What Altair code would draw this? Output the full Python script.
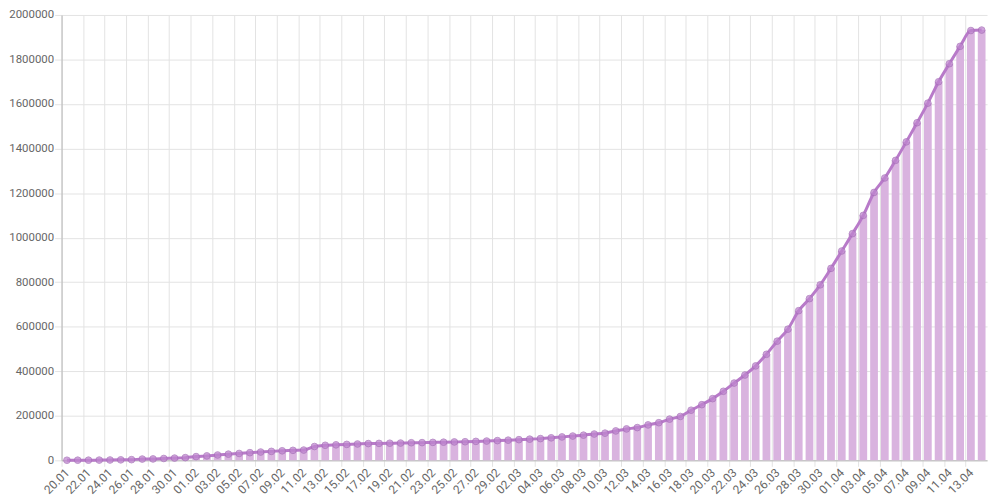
import altair as alt
import pandas as pd

dates = list(pd.date_range("2020-01-20", "2020-04-14", freq="D").strftime("%d.%m"))

cases = [
    400, 550, 650, 950, 1450, 2100, 2950, 5600, 6200, 8250,
    9950, 12050, 16800, 19900, 23900, 27650, 30800, 34400, 37150, 40150,
    42750, 44800, 46000, 62000, 67500, 69500, 71500, 73300, 75200, 76000,
    76800, 77500, 79000, 79500, 80500, 81400, 82500, 83500, 85000, 86500,
    88500, 90500, 92800, 95000, 97500, 101000, 105000, 109000, 113000, 118000,
    122000, 132000, 141000, 147000, 159000, 169000, 185000, 197000, 225000, 250000,
    277000, 310000, 347000, 383000, 424000, 476000, 535000, 589000, 672000, 726000,
    788000, 862000, 940000, 1018000, 1100000, 1203000, 1268000, 1347000, 1430000, 1516000,
    1604000, 1700000, 1781000, 1859000, 1930000, 1932000,
]

label_dates = dates[::2]
y_ticks = list(range(0, 2000001, 200000))

df = pd.DataFrame({"date": dates, "cases": cases})

W = 933
H = 449
step = W / len(dates)

grid_c = "#e3e3e3"
text_c = "#666666"

x = alt.X(
    "date:N",
    sort=dates,
    scale=alt.Scale(paddingInner=0.28, paddingOuter=0.14),
    axis=alt.Axis(
        values=label_dates,
        title=None,
        labelAngle=-45,
        labelAlign="right",
        labelBaseline="middle",
        labelFont="Roboto",
        labelFontSize=12,
        labelColor=text_c,
        labelPadding=4,
        bandPosition=0.5,
        tickOffset=-step / 2,
        labelOffset=step / 2,
        grid=True,
        gridColor=grid_c,
        tickColor=grid_c,
        tickSize=6,
        domainColor="#b5b5b5",
        labelOverlap=False,
    ),
)

y = alt.Y(
    "cases:Q",
    scale=alt.Scale(domain=[0, 2000000], nice=False),
    axis=alt.Axis(
        values=y_ticks,
        format="d",
        title=None,
        labelFont="Roboto",
        labelFontSize=11.5,
        labelColor=text_c,
        labelPadding=1,
        tickSize=7,
        tickColor=grid_c,
        gridColor=grid_c,
        domainColor="#b5b5b5",
    ),
)

base = alt.Chart(df).encode(x=x, y=y)

bars = base.mark_bar(color="#d9b3df")
line = base.mark_line(color="#b87ac9", strokeWidth=3, interpolate="monotone")
pts = base.mark_circle(size=45, color="#bf86cf", opacity=0.75, stroke="#a66fb8", strokeWidth=1)

chart = (
    alt.layer(bars, line, pts)
    .properties(
        width=W,
        height=H,
        autosize=alt.AutoSizeParams(type="none"),
        padding={"left": 54, "top": 5, "right": 5, "bottom": 38},
    )
    .configure_view(stroke=None)
)

chart.save("out.html", embed_options={"renderer": "svg", "actions": False})
